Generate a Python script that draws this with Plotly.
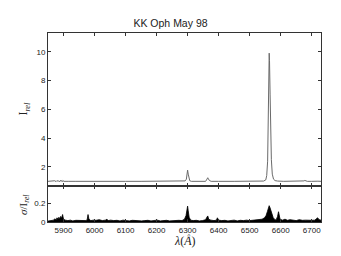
import plotly.graph_objects as go
from plotly.subplots import make_subplots

# Spectrum (relative intensity)
wavelength = [5850, 5860, 5868, 5872, 5876, 5879, 5882, 5885, 5888, 5890, 5892, 5894, 5896, 5898,
              5901, 5905, 5915, 5940, 5980, 6020, 6060, 6100, 6150, 6200, 6250, 6280, 6292,
              6296, 6298, 6300, 6302, 6304, 6307, 6312, 6330, 6345, 6352, 6358, 6361, 6363,
              6365, 6367, 6370, 6376, 6385, 6400, 6450, 6500, 6530, 6545, 6552, 6555, 6558,
              6560, 6562, 6563, 6564, 6566, 6568, 6570, 6573, 6577, 6582, 6590, 6610, 6640,
              6670, 6675, 6678, 6681, 6686, 6700, 6712, 6716, 6720, 6730]
intensity = [1.00, 1.00, 0.99, 1.04, 0.98, 1.06, 1.00, 1.03, 0.97, 1.07, 1.01, 1.05, 0.98, 1.06,
             1.00, 1.01, 1.00, 1.00, 1.01, 1.00, 1.00, 1.00, 1.00, 1.01, 1.00, 1.00, 1.03,
             1.15, 1.45, 1.78, 1.50, 1.15, 1.04, 1.00, 1.00, 0.98, 0.96, 1.00, 1.10, 1.22,
             1.25, 1.18, 1.06, 1.00, 0.99, 1.00, 1.00, 1.00, 1.01, 1.02, 1.10, 1.40, 2.40,
             4.80, 8.20, 9.90, 9.40, 7.00, 4.20, 2.50, 1.50, 1.15, 1.05, 1.02, 1.00, 1.00,
             1.00, 1.03, 1.06, 1.02, 1.00, 1.00, 1.02, 1.05, 1.01, 1.00]

# Relative error sigma / I_rel
noise_wavelength = [5850, 5856, 5862, 5868, 5872, 5876, 5879, 5882, 5885, 5888, 5891, 5894, 5897,
                    5900, 5906, 5914, 5922, 5930, 5940, 5950, 5960, 5970, 5976, 5979, 5982,
                    5988, 5996, 6005, 6015, 6025, 6035, 6040, 6044, 6052, 6062, 6072, 6082,
                    6092, 6102, 6112, 6122, 6132, 6142, 6152, 6162, 6172, 6182, 6192, 6202,
                    6212, 6222, 6232, 6242, 6252, 6262, 6272, 6282, 6290, 6295, 6298, 6300,
                    6302, 6305, 6310, 6318, 6328, 6338, 6348, 6358, 6362, 6365, 6368, 6375,
                    6385, 6393, 6396, 6400, 6410, 6420, 6430, 6440, 6450, 6460, 6470, 6480,
                    6490, 6500, 6510, 6520, 6530, 6540, 6548, 6553, 6557, 6560, 6563, 6566,
                    6569, 6572, 6576, 6580, 6585, 6590, 6593, 6598, 6606, 6614, 6622, 6630,
                    6640, 6650, 6660, 6670, 6680, 6690, 6700, 6710, 6716, 6719, 6724, 6730]
noise = [0.010, 0.015, 0.012, 0.020, 0.035, 0.020, 0.045, 0.030, 0.050, 0.035, 0.060, 0.040, 0.080,
         0.030, 0.020, 0.015, 0.020, 0.012, 0.018, 0.015, 0.020, 0.015, 0.020, 0.080, 0.030,
         0.015, 0.020, 0.018, 0.025, 0.015, 0.020, 0.030, 0.015, 0.020, 0.015, 0.018, 0.012,
         0.020, 0.015, 0.012, 0.018, 0.015, 0.020, 0.012, 0.015, 0.018, 0.012, 0.015, 0.020,
         0.012, 0.015, 0.018, 0.012, 0.015, 0.012, 0.018, 0.015, 0.030, 0.070, 0.130, 0.170,
         0.120, 0.050, 0.020, 0.015, 0.018, 0.012, 0.015, 0.025, 0.050, 0.065, 0.030, 0.020,
         0.015, 0.020, 0.045, 0.020, 0.015, 0.018, 0.012, 0.015, 0.020, 0.012, 0.018, 0.015,
         0.020, 0.015, 0.018, 0.025, 0.020, 0.030, 0.045, 0.070, 0.110, 0.140, 0.175, 0.150,
         0.110, 0.070, 0.045, 0.030, 0.020, 0.060, 0.110, 0.030, 0.020, 0.030, 0.018, 0.025,
         0.020, 0.015, 0.025, 0.018, 0.020, 0.015, 0.018, 0.020, 0.035, 0.045, 0.025, 0.020]

x_ticks = [5900, 6000, 6100, 6200, 6300, 6400, 6500, 6600, 6700]
top_y_ticks = [2, 4, 6, 8, 10]
bottom_y_ticks = [0, 0.2]

fig = make_subplots(rows=2, cols=1, shared_xaxes=True, vertical_spacing=0,
                    row_heights=[0.81, 0.19])

fig.add_trace(go.Scatter(x=wavelength, y=intensity, mode="lines",
                         line=dict(color="#6a6a6a", width=1), showlegend=False),
              row=1, col=1)
fig.add_trace(go.Scatter(x=noise_wavelength, y=noise, mode="lines", fill="tozeroy",
                         fillcolor="black", line=dict(color="black", width=0.8),
                         showlegend=False),
              row=2, col=1)

axis_common = dict(showline=True, linecolor="#333", linewidth=1, mirror="ticks",
                   ticks="inside", ticklen=3, tickcolor="#333", showgrid=False,
                   zeroline=False, tickfont=dict(family="Liberation Sans, Arial", size=8,
                                                 color="#222"))

fig.update_xaxes(range=[5850, 6730], tickvals=x_ticks, **axis_common)
fig.update_xaxes(showticklabels=False, row=1, col=1)
fig.update_yaxes(range=[0.67, 11.3], tickvals=top_y_ticks, row=1, col=1, **axis_common)
fig.update_yaxes(range=[0, 0.385], tickvals=bottom_y_ticks, ticktext=["0", "0.2"],
                 row=2, col=1, **axis_common)

fig.update_layout(
    width=341, height=256,
    margin=dict(l=48, r=20, t=33, b=34),
    paper_bgcolor="white", plot_bgcolor="white",
    title=dict(text="KK Oph May 98", x=0.5, xanchor="center", y=1 - 23 / 256,
               yanchor="middle", font=dict(family="Liberation Sans, Arial", size=10.5,
                                           color="#222")),
    annotations=[
        dict(text="I<sub><i>rel</i></sub>", xref="paper", yref="paper", x=-0.088,
             xanchor="center", y=0.6, yanchor="middle", textangle=-90, showarrow=False,
             font=dict(family="Liberation Serif, Times New Roman", size=12, color="#222")),
        dict(text="<i>σ</i>/I<sub><i>rel</i></sub>", xref="paper", yref="paper", x=-0.088,
             xanchor="center", y=0.09, yanchor="middle", textangle=-90, showarrow=False,
             font=dict(family="Liberation Serif, Times New Roman", size=11, color="#222")),
        dict(text="<i>λ</i>(<i>Å</i>)", xref="paper", yref="paper", x=0.5, y=-0.102,
             xanchor="center", yanchor="middle", showarrow=False,
             font=dict(family="Liberation Serif, Times New Roman", size=12, color="#222")),
    ],
)

fig.write_html("out.html", config={"displayModeBar": False},
               post_script="document.body.style.margin='0';")
